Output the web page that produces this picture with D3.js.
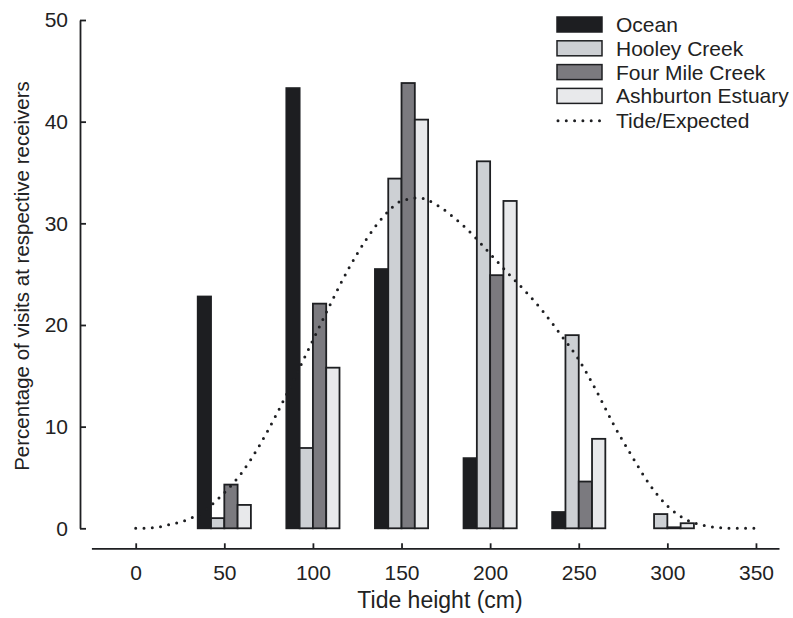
<!DOCTYPE html>
<html>
<head>
<meta charset="utf-8">
<script src="https://cdn.jsdelivr.net/npm/d3@7"></script>
<style>
  body { margin: 0; background: #fff; }
  svg text { font-family: "Liberation Sans", Arial, sans-serif; fill: #222; }
</style>
</head>
<body>
<svg id="chart" width="793" height="618"></svg>
<script>
// Visits by tide height, per receiver site

// tide height classes (cm)
const groups = [0, 50, 100, 150, 200, 250, 300]

// percentage of visits per site
const series = ["Ocean", "Hooley Creek", "Four Mile Creek", "Ashburton Estuary"]
const ocean = [0, 22.8, 43.3, 25.5, 6.9, 1.6, 0]
const hooley = [0, 1.0, 7.9, 34.4, 36.1, 19.0, 1.4]
const fourMile = [0, 4.3, 22.1, 43.8, 24.9, 4.6, 0.1]
const ashburton = [0, 2.3, 15.8, 40.2, 32.2, 8.8, 0.5]

// tide / expected curve
const tideX = [0, 10, 20, 30, 40, 50, 60, 70, 80, 90, 100, 110, 120, 130, 140, 150, 160, 170, 180,
  190, 200, 210, 220, 230, 240, 250, 260, 270, 280, 290, 300, 310, 320, 330, 340, 350]
const tideY = [0, 0.05, 0.4, 0.9, 1.9, 3.5, 5.5, 8.2, 11.4, 14.9, 18.5, 22.1, 25.5, 28.4, 30.7, 32.2, 32.5,
  31.8, 30.5, 28.9, 27.0, 25.1, 23.3, 21.3, 19.0, 16.6, 13.5, 10.1, 7.1, 4.3, 2.2, 0.9, 0.3, 0.05, 0, 0]

const xTicks = [0, 50, 100, 150, 200, 250, 300, 350]
const yTicks = [0, 10, 20, 30, 40, 50]

const colors = ["#1d1e21", "#cdd0d4", "#7b7a7f", "#e8e9eb"]
const seriesValues = [ocean, hooley, fourMile, ashburton]
const barW = 7.5   // width of one bar in x units
const ink = "#1e1f22"

const svg = d3.select("#chart")

const x = d3.scaleLinear().domain([-25, 363]).range([91.4, 779])
const y = d3.scaleLinear().domain([0, 50]).range([528.3, 20])

// y axis (ticks pointing inside)
const yAxis = svg.append("g")
    .attr("transform", "translate(80,0)")
    .call(d3.axisLeft(y).tickValues(yTicks).tickSize(-6).tickSizeOuter(0).tickPadding(12))
yAxis.select(".domain").attr("stroke", ink).attr("stroke-width", 1.8)
yAxis.selectAll(".tick line").attr("stroke", ink).attr("stroke-width", 1.8)
yAxis.selectAll(".tick text").style("font-size", "21px").attr("fill", "#222")

// x axis (separate line below)
const xAxis = svg.append("g")
    .attr("transform", "translate(0,548.3)")
    .call(d3.axisBottom(x).tickValues(xTicks).tickSize(-5).tickSizeOuter(0).tickPadding(17))
xAxis.select(".domain").attr("stroke", ink).attr("stroke-width", 1.8)
xAxis.selectAll(".tick line").attr("stroke", ink).attr("stroke-width", 1.8)
xAxis.selectAll(".tick text").style("font-size", "21px").attr("fill", "#222")

// bars
const bars = []
groups.forEach((g, gi) => {
    seriesValues.forEach((vals, si) => {
        bars.push({ group: g, series: si, value: vals[gi] })
    })
})

svg.append("g").selectAll("rect")
    .data(bars.filter(d => d.value > 0))
    .enter()
    .append("rect")
    .attr("x", d => x(d.group - 2 * barW + d.series * barW))
    .attr("width", d => x(barW) - x(0))
    .attr("y", d => y(d.value))
    .attr("height", d => y(0) - y(d.value))
    .attr("fill", d => colors[d.series])
    .attr("stroke", ink)
    .attr("stroke-width", 1.8)

// tide curve
const line = d3.line()
    .x(d => x(d[0]))
    .y(d => y(d[1]))
    .curve(d3.curveMonotoneX)

svg.append("path")
    .datum(tideX.map((v, i) => [v, tideY[i]]))
    .attr("d", line)
    .attr("fill", "none")
    .attr("stroke", ink)
    .attr("stroke-width", 3)
    .attr("stroke-linecap", "round")
    .attr("stroke-dasharray", "0,8.3")

// axis titles
svg.append("text")
    .attr("x", 440)
    .attr("y", 608)
    .attr("text-anchor", "middle")
    .style("font-size", "23px")
    .text("Tide height (cm)")

svg.append("text")
    .attr("transform", "translate(29,276) rotate(-90)")
    .attr("text-anchor", "middle")
    .style("font-size", "20.5px")
    .text("Percentage of visits at respective receivers")

// legend
const legend = svg.append("g").attr("transform", "translate(557,17)")
series.forEach((name, i) => {
    const row = legend.append("g").attr("transform", `translate(0,${i * 23.8})`)
    row.append("rect")
        .attr("width", 45)
        .attr("height", 15)
        .attr("fill", colors[i])
        .attr("stroke", ink)
        .attr("stroke-width", 1.5)
    row.append("text")
        .attr("x", 59)
        .attr("y", 15)
        .style("font-size", "21px")
        .text(name)
})
const tideRow = legend.append("g").attr("transform", `translate(0,${4 * 23.8})`)
tideRow.append("line")
    .attr("x1", 1).attr("x2", 44)
    .attr("y1", 8.5).attr("y2", 8.5)
    .attr("stroke", ink)
    .attr("stroke-width", 3)
    .attr("stroke-linecap", "round")
    .attr("stroke-dasharray", "0,8.3")
tideRow.append("text")
    .attr("x", 59)
    .attr("y", 16)
    .style("font-size", "21px")
    .text("Tide/Expected")
</script>
</body>
</html>
